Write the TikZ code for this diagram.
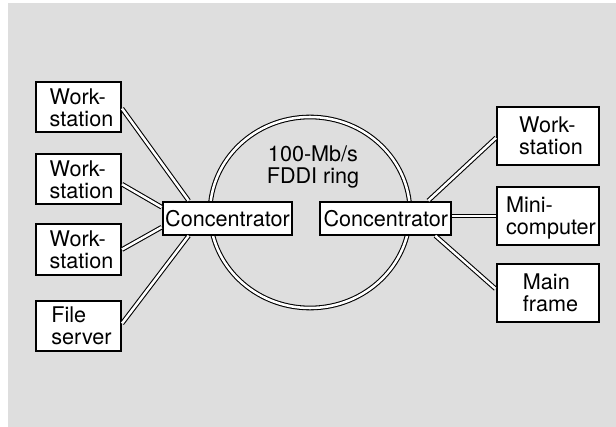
\documentclass[tikz,border=0pt]{standalone}
\usepackage{fontspec}
\setmainfont{TeX Gyre Heros}
\usetikzlibrary{calc}
\definecolor{bggray}{RGB}{222,222,222}
\newcommand{\ts}{\hspace*{4.5pt}}
\begin{document}
\begin{tikzpicture}[x=0.75pt,y=-0.75pt,
  every node/.style={font=\fontsize{16.2}{16.6}\selectfont, text depth=0pt},
  dev/.style={draw, line width=1.5pt, fill=white, align=left, inner sep=0pt},
  lbox/.style={dev, minimum width=63.75pt, minimum height=37.5pt},
  rbox/.style={dev, minimum width=76.5pt, minimum height=43.7pt},
  conc/.style={draw, line width=1.5pt, fill=white, inner sep=0pt, minimum height=24.75pt},
  link/.style={line width=0.8pt, double=white, double distance=1.9pt}
]
\useasboundingbox (0,0) rectangle (616,427);
\fill[bggray] (8,3) rectangle (616,427);

% ring
\draw[link] (310,212.5) ellipse [x radius=100, y radius=95.5];
\node (ring) at (313,164.5) [align=center] {100-Mb/s\\FDDI ring};

% concentrators
\node (lc) [conc, minimum width=97.2pt] at (227.5,218.2) {Concentrator};
\node (rc) [conc, minimum width=98.25pt] at (385.8,218.2) {Concentrator};

% left devices
\node (ws1) [lbox] at (78.5,107.5) {\ts Work-\\\ts station};
\node (ws2) [lbox] at (78.5,179.2) {\ts Work-\\\ts station};
\node (ws3) [lbox] at (78.5,249.5) {\ts Work-\\\ts station};
\node (fs)  [lbox] at (78.5,325.5) {\ts File\\\ts server};

% right devices
\node (rws)  [rbox] at (548,135.8) {\ts Work-\\\ts station};
\node (mini) [rbox] at (548,216)   {\ts Mini-\\\ts computer};
\node (main) [rbox] at (547.5,292.8) {\ts Main\\\ts frame};

% connectors
\draw[link] ($(ws1.east)+(0,1)$) -- ($(lc.north west)+(27,0)$);
\draw[link] ($(ws2.east)+(0,5)$) -- ($(lc.west)+(0,-11)$);
\draw[link] (ws3.east) -- ($(lc.west)+(0,9)$);
\draw[link] ($(fs.east)+(0,-2)$) -- ($(lc.south west)+(27,0)$);
\draw[link] ($(rc.north east)+(-24,0)$) -- ($(rws.west)+(0,2)$);
\draw[link] (mini.west -| rc.east) -- (mini.west);
\draw[link] ($(rc.south east)+(-17,0)$) -- ($(main.west)+(0,-4)$);
\end{tikzpicture}
\end{document}
